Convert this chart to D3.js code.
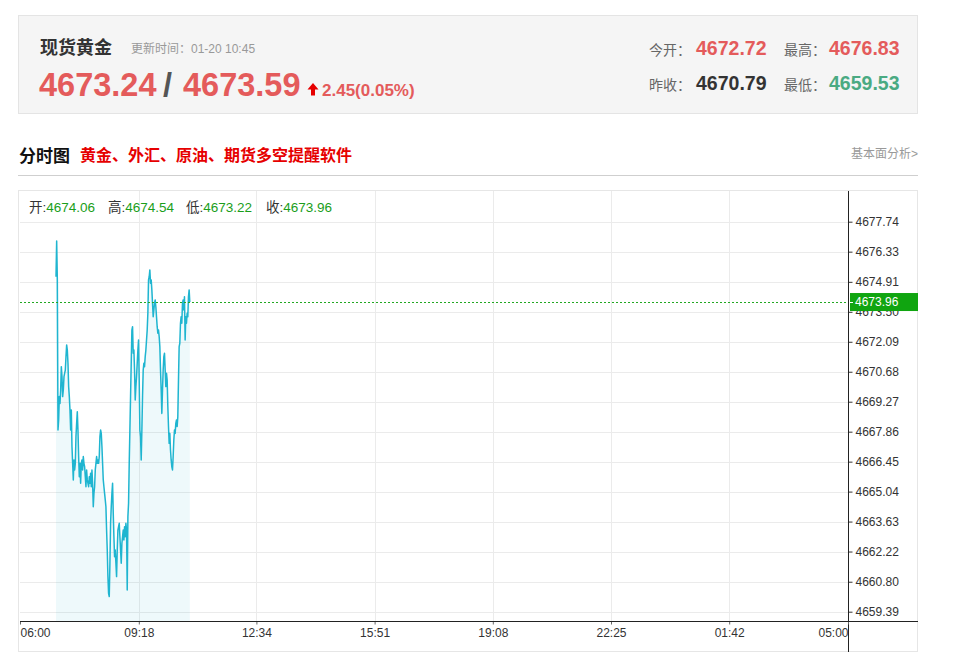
<!DOCTYPE html>
<html><head><meta charset="utf-8">
<script src="https://cdn.jsdelivr.net/npm/d3@7"></script>
<style>body{margin:0;background:#fff}</style>
</head><body><svg id="c" width="960" height="670"></svg>
<script>
// ---------- data ----------
const instrumentName = "现货黄金";
const updateLabel = "更新时间：01-20 10:45";
const bidPrice = "4673.24", askPrice = "4673.59", changeText = "2.45(0.05%)";
const statLabels = ["今开：", "最高：", "昨收：", "最低："];
const statValues = ["4672.72", "4676.83", "4670.79", "4659.53"];
const statColors = ["#e45b5b", "#e45b5b", "#333333", "#4aaa82"];
const chartTitle = "分时图", promoText = "黄金、外汇、原油、期货多空提醒软件", linkText = "基本面分析>";
const ohlcLabels = ["开:", "高:", "低:", "收:"];
const ohlcValues = ["4674.06", "4674.54", "4673.22", "4673.96"];
const yTickLabels = ["4677.74","4676.33","4674.91","4673.50","4672.09","4670.68","4669.27","4667.86","4666.45","4665.04","4663.63","4662.22","4660.80","4659.39"];
const xTickLabels = ["06:00","09:18","12:34","15:51","19:08","22:25","01:42","05:00"];
const sessionStart = "06:00", sessionEnd = "05:00";
const seriesStart = "07:00", seriesEnd = "10:43";
const lastPrice = 4673.96;
const prices = [
4675.15,4676.83,4675.00,4667.94,4668.41,4669.51,4669.19,4669.82,4670.92,4670.45,
4669.51,4669.82,4670.45,4670.61,4670.76,4671.39,4671.94,4671.70,4671.08,4669.98,
4669.51,4668.88,4667.94,4668.88,4667.16,4666.37,4665.59,4666.53,4666.06,4666.37,
4667.63,4668.25,4668.80,4667.94,4666.69,4665.74,4666.37,4665.43,4666.37,4666.53,
4666.06,4666.69,4666.37,4666.21,4665.74,4665.27,4666.06,4665.59,4665.43,4665.27,
4665.74,4665.43,4665.90,4665.27,4666.06,4665.43,4664.33,4664.96,4665.27,4666.06,
4666.37,4666.69,4666.37,4666.53,4666.37,4666.69,4667.63,4667.94,4667.78,4667.16,
4666.37,4665.59,4665.27,4664.96,4664.65,4664.33,4663.23,4662.29,4661.04,4660.25,
4660.10,4661.67,4663.55,4664.33,4664.96,4665.43,4664.02,4662.92,4661.98,4662.29,
4661.67,4661.04,4662.29,4663.23,4663.39,4663.55,4662.92,4662.29,4661.67,4662.61,
4662.92,4663.23,4662.76,4663.39,4662.92,4663.55,4663.23,4660.41,4663.86,4664.49,
4666.37,4667.94,4669.51,4671.08,4672.64,4672.80,4671.55,4671.70,4670.76,4669.35,
4669.98,4670.45,4671.08,4671.70,4672.17,4670.29,4667.94,4667.63,4666.53,4667.94,
4669.51,4670.76,4671.08,4670.92,4671.39,4671.70,4672.17,4672.64,4673.43,4675.00,
4675.15,4675.47,4674.84,4675.00,4674.53,4673.90,4673.27,4673.59,4673.90,4674.06,
4673.74,4673.27,4672.80,4672.49,4672.64,4672.33,4671.86,4670.76,4669.82,4668.72,
4669.82,4670.76,4671.39,4671.55,4670.76,4669.98,4670.61,4670.29,4669.04,4668.10,
4667.31,4667.78,4667.00,4666.53,4666.21,4666.06,4666.69,4667.47,4667.94,4667.78,
4668.25,4668.41,4668.10,4668.57,4670.29,4671.86,4672.02,4672.96,4673.27,4672.96,
4673.90,4674.06,4673.59,4674.21,4672.17,4673.27,4672.96,4673.43,4673.27,4674.21,
4674.53,4673.96
];

// ---------- helpers ----------
const toMin = s => { const [h, m] = s.split(":").map(Number); let t = h * 60 + m - 360; if (t < 0) t += 1440; return t; };
const svg = d3.select("#c");
const cjk = "'Liberation Sans', Arial, 'Noto Sans CJK SC', sans-serif";
const lat = "'Liberation Sans', Arial, sans-serif";

// ---------- header ----------
svg.append("rect").attr("x", 18.5).attr("y", 15.5).attr("width", 899).attr("height", 98)
  .attr("fill", "#f5f5f5").attr("stroke", "#e4e4e4");
svg.append("text").attr("x", 40).attr("y", 54).attr("font-family", cjk).attr("font-size", 18)
  .attr("font-weight", "bold").attr("fill", "#333").text(instrumentName);
svg.append("text").attr("x", 131).attr("y", 53).attr("font-family", cjk).attr("font-size", 12)
  .attr("fill", "#999").text(updateLabel);
svg.append("text").attr("x", 39).attr("y", 96).attr("font-family", lat).attr("font-size", 32.5)
  .attr("font-weight", "bold").attr("fill", "#e45b5b").text(bidPrice);
svg.append("text").attr("x", 163).attr("y", 96).attr("font-family", lat).attr("font-size", 32.5)
  .attr("font-weight", "bold").attr("fill", "#555").text("/");
svg.append("text").attr("x", 183).attr("y", 96).attr("font-family", lat).attr("font-size", 32.5)
  .attr("font-weight", "bold").attr("fill", "#e45b5b").text(askPrice);
svg.append("path").attr("d", "M313,83 L307.5,89.5 L311,89.5 L311,95.5 L315,95.5 L315,89.5 L318.5,89.5 Z").attr("fill", "#e60000");
svg.append("text").attr("x", 322).attr("y", 96).attr("font-family", lat).attr("font-size", 17)
  .attr("font-weight", "bold").attr("fill", "#e45b5b").text(changeText);
const statLabelX = [649, 784, 649, 784], statValueX = [696, 829, 696, 829], statY = [55, 55, 90, 90];
statLabels.forEach((l, i) => {
  svg.append("text").attr("x", statLabelX[i]).attr("y", statY[i]).attr("font-family", cjk)
    .attr("font-size", 14).attr("fill", "#666").text(l);
  svg.append("text").attr("x", statValueX[i]).attr("y", statY[i]).attr("font-family", lat)
    .attr("font-size", 19.5).attr("font-weight", "bold").attr("fill", statColors[i]).text(statValues[i]);
});

// ---------- title row ----------
svg.append("text").attr("x", 19).attr("y", 162).attr("font-family", cjk).attr("font-size", 17)
  .attr("font-weight", "bold").attr("fill", "#111").text(chartTitle);
svg.append("text").attr("x", 80).attr("y", 161).attr("font-family", cjk).attr("font-size", 16)
  .attr("font-weight", "bold").attr("fill", "#e60000").text(promoText);
svg.append("text").attr("x", 918).attr("y", 158).attr("text-anchor", "end").attr("font-family", cjk)
  .attr("font-size", 12).attr("fill", "#999").text(linkText);
svg.append("line").attr("x1", 18).attr("x2", 918).attr("y1", 175.5).attr("y2", 175.5).attr("stroke", "#cfcfcf");

// ---------- chart ----------
const L = 20, R = 848, T = 191, B = 621;
svg.append("rect").attr("x", 18.5).attr("y", 190.5).attr("width", 899).attr("height", 461)
  .attr("fill", "none").attr("stroke", "#e6e6e6");

const x = d3.scaleLinear().domain([toMin(sessionStart), toMin(sessionEnd)]).range([L, R]);
const y = d3.scaleLinear().domain([4658.952, 4679.184]).range([B, T]);
const yTickVals = yTickLabels.map(Number);
const xTickVals = xTickLabels.map(toMin);

const grid = svg.append("g").attr("stroke", "#ebebeb").attr("stroke-width", 1);
grid.selectAll("line.h").data(yTickVals).join("line").attr("class", "h")
  .attr("x1", L).attr("x2", R).attr("y1", d => Math.round(y(d)) + 0.5).attr("y2", d => Math.round(y(d)) + 0.5);
grid.selectAll("line.v").data(xTickVals.slice(1, -1)).join("line").attr("class", "v")
  .attr("y1", T).attr("y2", B).attr("x1", d => Math.round(x(d)) + 0.5).attr("x2", d => Math.round(x(d)) + 0.5);

// series
const idx = d3.scaleLinear().domain([0, prices.length - 1]).range([toMin(seriesStart), toMin(seriesEnd)]);
const pts = prices.map((v, i) => [idx(i), v]);
svg.append("path").datum(pts)
  .attr("d", d3.area().x(d => x(d[0])).y0(B).y1(d => y(d[1])))
  .attr("fill", "#1eb4cf").attr("fill-opacity", 0.075);
svg.append("path").datum(pts)
  .attr("d", d3.line().x(d => x(d[0])).y(d => y(d[1])))
  .attr("fill", "none").attr("stroke", "#1fb5d0").attr("stroke-width", 1.5).attr("stroke-linejoin", "round");

// y axis
const yAxis = svg.append("g").attr("transform", `translate(${R + 0.5},0)`)
  .call(d3.axisRight(y).tickValues(yTickVals).tickFormat((d, i) => yTickLabels[i]).tickSize(4).tickPadding(3));
yAxis.select(".domain").remove();
yAxis.selectAll("text").attr("font-family", lat).attr("font-size", 12).attr("fill", "#333");
yAxis.selectAll("line").attr("stroke", "#333");
svg.append("line").attr("x1", R + 0.5).attr("x2", R + 0.5).attr("y1", T).attr("y2", 652).attr("stroke", "#222");

// x axis
const xAxis = svg.append("g").attr("transform", `translate(0,${B + 0.5})`)
  .call(d3.axisBottom(x).tickValues(xTickVals).tickFormat((d, i) => xTickLabels[i]).tickSize(3).tickPadding(4));
xAxis.select(".domain").remove();
xAxis.selectAll("text").attr("font-family", lat).attr("font-size", 12).attr("fill", "#333")
  .attr("text-anchor", (d, i) => i === 0 ? "start" : (i === xTickLabels.length - 1 ? "end" : "middle"));
xAxis.selectAll("line").attr("stroke", "#666");
svg.append("line").attr("x1", L).attr("x2", 918).attr("y1", B + 0.5).attr("y2", B + 0.5).attr("stroke", "#222");

// last price marker
const yl = Math.round(y(lastPrice)) + 0.5;
svg.append("line").attr("x1", L).attr("x2", R).attr("y1", yl).attr("y2", yl)
  .attr("stroke", "#22a822").attr("stroke-dasharray", "2,2");
svg.append("rect").attr("x", R + 2).attr("y", y(lastPrice) - 9).attr("width", 68).attr("height", 18).attr("fill", "#10a510");
svg.append("line").attr("x1", R + 1).attr("x2", R + 5).attr("y1", yl).attr("y2", yl).attr("stroke", "#fff");
svg.append("text").attr("x", R + 7).attr("y", y(lastPrice)).attr("dy", "0.35em")
  .attr("font-family", lat).attr("font-size", 12).attr("fill", "#fff").text(lastPrice.toFixed(2));

// OHLC info row
ohlcLabels.forEach((l, i) => {
  const t = svg.append("text").attr("x", [29, 108, 186, 266][i]).attr("y", 212).attr("font-family", cjk).attr("font-size", 13.5);
  t.append("tspan").attr("fill", "#333").text(l);
  t.append("tspan").attr("fill", "#1a9e1a").text(ohlcValues[i]);
});
</script></body></html>
